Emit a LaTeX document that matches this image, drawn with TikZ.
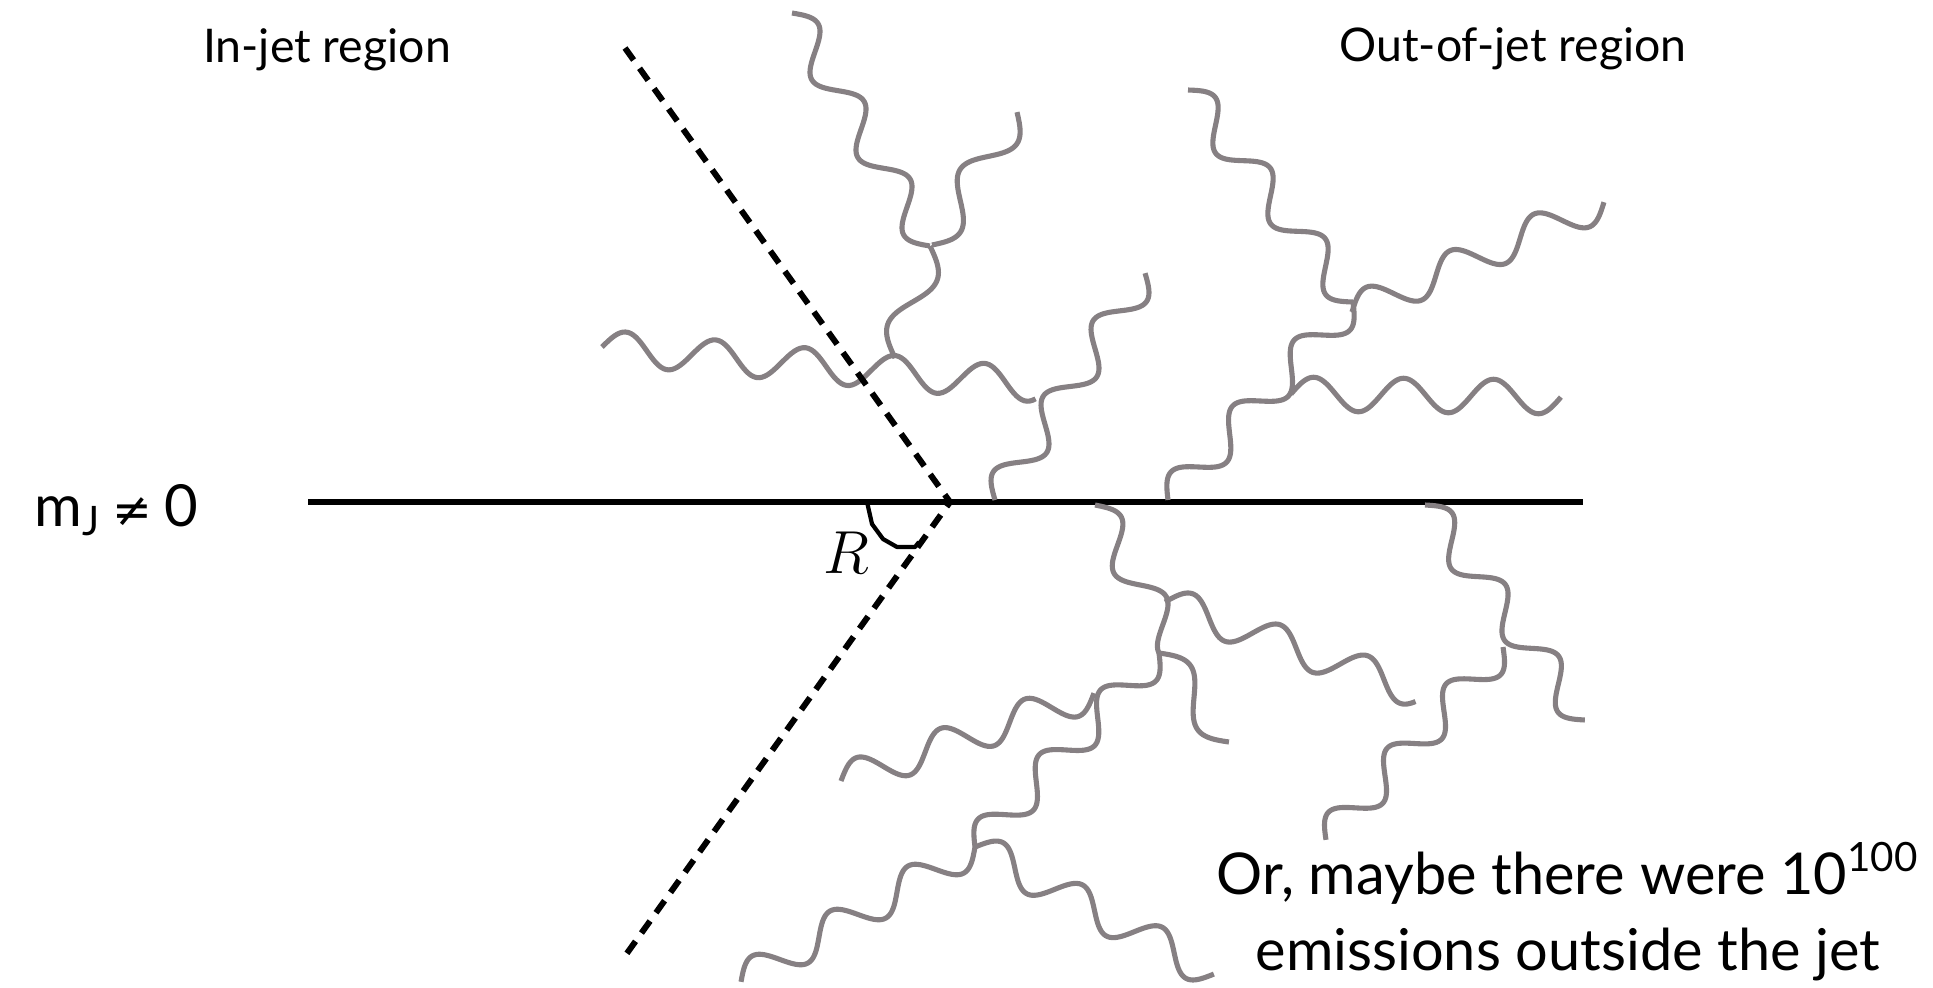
\documentclass[tikz,border=0pt]{standalone}
\usepackage{fontspec}
\setmainfont{Lato}
\newfontfamily\symfont{DejaVu Sans}
\usetikzlibrary{calc}
\definecolor{gluongray}{RGB}{134,128,131}

% wavy emission from (#1,#2) to (#3,#4), #5 periods, #6 = side of first bulge
\newcommand{\gluon}[6]{%
  \pgfmathsetmacro{\glen}{veclen(#3-#1,#4-#2)}%
  \pgfmathsetmacro{\gnx}{-(#4-#2)/\glen}%
  \pgfmathsetmacro{\gny}{(#3-#1)/\glen}%
  \draw[gluonline] plot[domain=0:1, samples=160]
    ({#1+\x*(#3-#1)+#6*17*sin(360*#5*\x)*\gnx},
     {#2+\x*(#4-#2)+#6*17*sin(360*#5*\x)*\gny});
}

\begin{document}
\begin{tikzpicture}[x=0.01cm, y=-0.01cm,
    gluonline/.style={gluongray, line width=1.45pt},
    jetline/.style={black, line width=1.6pt},
    conedash/.style={black, line width=1.7pt, dash pattern=on 4.2pt off 2.9pt},
    anglearc/.style={black, line width=1.2pt, line join=round},
    regiontext/.style={inner sep=0pt, font=\fontsize{13.2}{16}\selectfont},
    notetext/.style={inner sep=0pt, font=\fontsize{16.4}{20}\selectfont}]
    \useasboundingbox (0,0) rectangle (1933,987);

    % Jet axis
    \draw[jetline] (308,502) -- (1583,502);

    % Emissions, upper left
    \gluon{792}{13}{930}{246}{3}{-1}
    \gluon{932}{245}{1017}{112}{1.5}{1}
    \gluon{930}{246}{895}{358}{1}{-1}
    \gluon{602}{347}{1037}{385}{4.85}{-1}
    \gluon{995}{500}{1145}{273}{3}{-1}

    % Emissions, upper right
    \gluon{1188}{90}{1353}{302}{3}{-1}
    \gluon{1352}{312}{1604}{202}{3}{-1}
    \gluon{1168}{500}{1353}{302}{3}{-1}
    \gluon{1291}{394}{1561}{397}{3}{-1}

    % Emissions, lower right
    \gluon{1425}{505}{1585}{720}{3}{-1}
    \gluon{1503}{647}{1326}{840}{3}{-1}

    % Emissions, lower middle
    \gluon{1095}{505}{1174}{645}{1.75}{-1}
    \gluon{1165}{602}{1419}{692}{2.9}{-1}
    \gluon{1159}{653}{975}{847}{3}{-1}
    \gluon{1159}{653}{1229}{742}{1}{-1}
    \gluon{841}{781}{1094}{693}{3}{-1}
    \gluon{975}{847}{741}{982}{3}{-1}
    \gluon{975}{847}{1214}{974}{3}{-1}

    % Jet cone
    \coordinate (vtx) at (950,502);
    \draw[conedash] (625,48) -- (vtx) -- (625,956);

    % Jet radius R
    \draw[anglearc] (867,502) -- (872,524) -- (883,539) -- (897,547) -- (915,547) -- (919,542);
    \node[inner sep=0pt, font=\fontsize{16.6}{20}\selectfont] (radius) at (846,553) {$R$};

    % Labels
    \node[regiontext, anchor=base] (injet) at (327,62) {In-jet region};
    \node[regiontext, anchor=base] (outjet) at (1513,61) {Out-of-jet region};
    \node[inner sep=0pt, font=\fontsize{16.5}{20}\selectfont, anchor=base west] (jetmass) at (34,526)
        {m\textsubscript{J}\hspace{0.2em}{\symfont\fontsize{13.5}{16}\selectfont ≠}\hspace{0.2em}0};
    \node[notetext, anchor=base] (note1) at (1568,894) {Or, maybe there were 10\textsuperscript{100}};
    \node[notetext, anchor=base] (note2) at (1568,970) {emissions outside the jet};
\end{tikzpicture}
\end{document}
